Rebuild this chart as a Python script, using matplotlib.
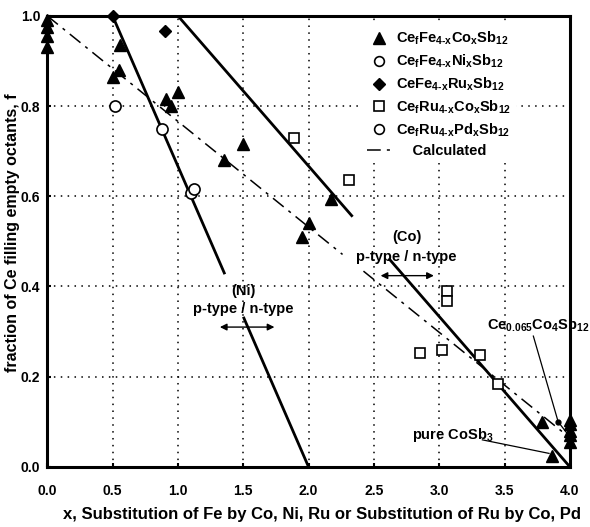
import matplotlib
matplotlib.use("Agg")
import matplotlib.pyplot as plt
from matplotlib.lines import Line2D

plt.rcParams['font.family'] = ['Liberation Sans', 'DejaVu Sans']
plt.rcParams['font.weight'] = 'bold'
plt.rcParams['axes.labelweight'] = 'bold'
plt.rcParams['mathtext.fontset'] = 'custom'
plt.rcParams['mathtext.rm'] = 'Liberation Sans:bold'
plt.rcParams['mathtext.it'] = 'Liberation Sans:bold'
plt.rcParams['mathtext.bf'] = 'Liberation Sans:bold'

# CefFe4-xCoxSb12
co_x = [0.0, 0.0, 0.0, 0.0, 0.5, 0.55, 0.56, 0.91, 0.95, 1.0, 1.35, 1.5,
        1.95, 2.0, 2.17, 3.79, 3.86, 4.0, 4.0, 4.0, 4.0, 4.0]
co_f = [0.93, 0.955, 0.975, 0.99, 0.865, 0.88, 0.935, 0.815, 0.80, 0.83, 0.68, 0.715,
        0.51, 0.54, 0.594, 0.10, 0.025, 0.055, 0.07, 0.08, 0.095, 0.105]
# CefFe4-xNixSb12
ni_x = [0.52, 0.88, 1.10]
ni_f = [0.80, 0.75, 0.607]
# CeFe4-xRuxSb12
ru_x = [0.5, 0.9]
ru_f = [1.0, 0.967]
# CefRu4-xCoxSb12
ruco_x = [1.89, 2.31, 2.85, 3.02, 3.06, 3.06, 3.31, 3.45]
ruco_f = [0.73, 0.636, 0.253, 0.26, 0.39, 0.368, 0.248, 0.184]
# CefRu4-xPdxSb12
pd_x = [1.12]
pd_f = [0.615]

# calculated filling, split around the (Co) label
calc_x = [[0.0, 2.26], [2.42, 3.95]]
calc_f = [[1.0, 0.471], [0.434, 0.076]]
# p/n boundaries, split around their labels
ni_line_x = [[0.5, 1.355], [1.505, 2.0]]
ni_line_f = [[1.0, 0.43], [0.33, 0.0]]
co_line_x = [[1.0, 2.33], [2.62, 4.0]]
co_line_f = [[1.0, 0.557], [0.46, 0.0]]

fig = plt.figure(figsize=(5.9, 5.27), dpi=100)
ax = fig.add_axes([0.080, 0.114, 0.886, 0.856])

ax.set_xlim(0, 4.0)
ax.set_ylim(0, 1.0)
ax.set_xticks([0.0, 0.5, 1.0, 1.5, 2.0, 2.5, 3.0, 3.5, 4.0])
ax.set_yticks([0.0, 0.2, 0.4, 0.6, 0.8, 1.0])
ax.xaxis.set_major_formatter(matplotlib.ticker.FormatStrFormatter('%.1f'))
ax.yaxis.set_major_formatter(matplotlib.ticker.FormatStrFormatter('%.1f'))
ax.tick_params(direction='in', length=3, width=1.5, labelsize=10)
ax.tick_params(axis='x', pad=12)
ax.tick_params(axis='y', pad=5)
for s in ax.spines.values():
    s.set_linewidth(2.2)
ax.grid(True, color='black', linestyle=(0, (1, 3.5)), linewidth=1.1)

for xs, fs in zip(ni_line_x, ni_line_f):
    ax.plot(xs, fs, color='black', lw=2)
for xs, fs in zip(co_line_x, co_line_f):
    ax.plot(xs, fs, color='black', lw=2)
for xs, fs in zip(calc_x, calc_f):
    ax.plot(xs, fs, color='black', lw=1.1, linestyle=(0, (9, 4, 2, 4)))

ax.plot(co_x, co_f, '^', color='black', ms=9, clip_on=False, zorder=5)
ax.plot(ni_x, ni_f, 'o', mfc='white', mec='black', mew=1.2, ms=8, zorder=5)
ax.plot(ru_x, ru_f, 'D', color='black', ms=6.5, clip_on=False, zorder=5)
ax.plot(ruco_x, ruco_f, 's', mfc='white', mec='black', mew=1.2, ms=7.5, zorder=5)
ax.plot(pd_x, pd_f, 'o', mfc='white', mec='black', mew=1.2, ms=8, zorder=5)

# labels on the boundaries
ax.text(1.5, 0.39, '(Ni)', ha='center', va='center', fontsize=10.5)
ax.text(1.5, 0.35, 'p-type / n-type', ha='center', va='center', fontsize=10.5)
ax.annotate('', xy=(1.30, 0.31), xytext=(1.76, 0.31),
            arrowprops=dict(arrowstyle='<|-|>', color='black', lw=1, mutation_scale=10))
ax.text(2.75, 0.51, '(Co)', ha='center', va='center', fontsize=10.5)
ax.text(2.75, 0.466, 'p-type / n-type', ha='center', va='center', fontsize=10.5)
ax.annotate('', xy=(2.53, 0.424), xytext=(2.98, 0.424),
            arrowprops=dict(arrowstyle='<|-|>', color='black', lw=1, mutation_scale=10))

ax.text(3.76, 0.315, r'Ce$_{\mathrm{0.065}}$Co$_{\mathrm{4}}$Sb$_{\mathrm{12}}$',
        ha='center', va='center', fontsize=10.5, clip_on=False)
ax.plot([3.72, 3.91, 3.99], [0.29, 0.10, 0.07], color='black', lw=0.9)
ax.plot([3.91], [0.10], 'o', color='black', ms=3.5)
ax.text(3.1, 0.07, r'pure CoSb$_{\mathrm{3}}$', ha='center', va='center', fontsize=10.5)
ax.plot([3.33, 3.84], [0.06, 0.03], color='black', lw=0.9)

handles = [
    Line2D([], [], marker='^', color='black', ls='none', ms=9),
    Line2D([], [], marker='o', mfc='white', mec='black', mew=1.2, ls='none', ms=7),
    Line2D([], [], marker='D', color='black', ls='none', ms=6),
    Line2D([], [], marker='s', mfc='white', mec='black', mew=1.2, ls='none', ms=7),
    Line2D([], [], marker='o', mfc='white', mec='black', mew=1.2, ls='none', ms=7),
    Line2D([], [], color='black', lw=1.1, linestyle=(0, (9, 4, 2, 4))),
]
labels = [
    r'Ce$_{\mathrm{f}}$Fe$_{\mathrm{4\text{-}x}}$Co$_{\mathrm{x}}$Sb$_{\mathrm{12}}$',
    r'Ce$_{\mathrm{f}}$Fe$_{\mathrm{4\text{-}x}}$Ni$_{\mathrm{x}}$Sb$_{\mathrm{12}}$',
    r'CeFe$_{\mathrm{4\text{-}x}}$Ru$_{\mathrm{x}}$Sb$_{\mathrm{12}}$',
    r'Ce$_{\mathrm{f}}$Ru$_{\mathrm{4\text{-}x}}$Co$_{\mathrm{x}}$Sb$_{\mathrm{12}}$',
    r'Ce$_{\mathrm{f}}$Ru$_{\mathrm{4\text{-}x}}$Pd$_{\mathrm{x}}$Sb$_{\mathrm{12}}$',
    '    Calculated',
]
leg = ax.legend(handles, labels, loc='upper left', bbox_to_anchor=(0.59, 0.995),
                frameon=True, fontsize=10.5, handlelength=1.6, handletextpad=0.4,
                labelspacing=0.38, borderpad=0.3)
leg.get_frame().set_edgecolor('none')
leg.get_frame().set_facecolor('white')
leg.get_frame().set_alpha(1)

ax.set_xlabel('x, Substitution of Fe by Co, Ni, Ru or Substitution of Ru by Co, Pd',
              fontsize=12)
ax.set_ylabel('fraction of Ce filling empty octants, f', fontsize=11.5)
ax.xaxis.set_label_coords(0.525, -0.088)
ax.yaxis.set_label_coords(-0.052, 0.52)

fig.savefig('out.png', dpi=100)
